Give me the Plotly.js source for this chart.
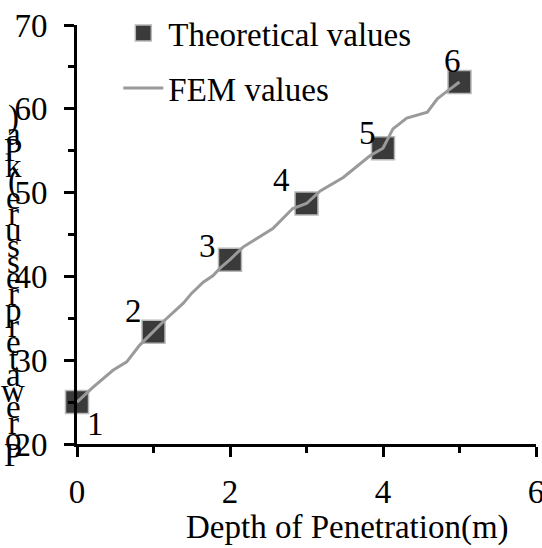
<!DOCTYPE html>
<html>
<head>
<meta charset="utf-8">
<script src="https://cdn.plot.ly/plotly-3.0.1.min.js"></script>
<style>
  html, body { margin: 0; padding: 0; background: #fff; }
  #chart { width: 542px; height: 548px; }
</style>
</head>
<body>
<div id="chart"></div>
<script>
// Theoretical peak pore water pressure at each depth (numbered points 1-6)
const theoDepth = [0, 1, 2, 3, 4, 5];
const theoPressure = [25.0, 33.4, 42.0, 48.7, 55.3, 63.2];
const theoLabels = ['1', '2', '3', '4', '5', '6'];

// FEM curve
const femDepth = [0, 0.2, 0.47, 0.65, 0.82, 1.0, 1.15, 1.39, 1.5, 1.65, 1.78, 1.87, 2.0,
                  2.17, 2.56, 2.82, 3.0, 3.18, 3.48, 3.83, 4.0, 4.13, 4.31, 4.58, 4.71, 4.81, 5.0];
const femPressure = [25.0, 26.7, 28.8, 29.8, 31.8, 33.4, 34.8, 36.8, 38.0, 39.3, 40.1, 41.0, 42.0,
                     43.5, 45.7, 48.1, 48.7, 50.2, 51.8, 54.4, 55.3, 57.6, 58.9, 59.6, 61.2, 61.9, 63.2];

const xTicks = [0, 2, 4, 6];
const yTicks = [20, 30, 40, 50, 60, 70];
const xTitle = 'Depth of Penetration(m)';
const yTitle = 'Pore water pressure(kPa)';

const FONT = 'Liberation Serif, Times New Roman, serif';
const FS = 33;

// pixel nudges for the point numbers (label placement around each marker)
const labelShiftX = [18, -20, -23, -25, -16, -7];
const labelShiftY = [-22, 21, 14, 23, 15, 21];

const fem = {
  x: femDepth, y: femPressure,
  type: 'scatter', mode: 'lines',
  name: 'FEM values',
  line: { color: '#9a9a9a', width: 3 },
  legendgroup: 'b',
  cliponaxis: false
};

const theo = {
  x: theoDepth, y: theoPressure,
  type: 'scatter', mode: 'markers',
  name: 'Theoretical values',
  marker: { symbol: 'square', size: 23, color: '#3a3a3a', line: { color: '#b8b8b8', width: 1.5 } },
  legendgroup: 'a',
  cliponaxis: false
};

const annotations = [];

// point numbers
theoLabels.forEach((lab, i) => {
  annotations.push({
    text: lab, x: theoDepth[i], y: theoPressure[i], xref: 'x', yref: 'y',
    xshift: labelShiftX[i], yshift: labelShiftY[i],
    xanchor: 'center', yanchor: 'middle', showarrow: false,
    font: { family: FONT, size: FS, color: '#000' }
  });
});

// Y title drawn as upright characters stacked from bottom to top
const chars = yTitle.replace(/ /g, '').split('');
const yBottom = -0.026, step = 16.1 / 420;
chars.forEach((ch, i) => {
  annotations.push({
    text: ch, xref: 'paper', yref: 'paper',
    x: -0.139, y: yBottom + i * step,
    xanchor: 'center', yanchor: 'middle',
    showarrow: false,
    font: { family: FONT, size: FS, color: '#000' }
  });
});

annotations.push({
  text: xTitle, xref: 'paper', yref: 'paper',
  x: 0.59, y: -0.2, xanchor: 'center', yanchor: 'middle',
  showarrow: false,
  font: { family: FONT, size: FS, color: '#000' }
});

const axisCommon = {
  showline: true, linecolor: '#000', linewidth: 3,
  ticks: 'outside', ticklen: 10, tickwidth: 3, tickcolor: '#000',
  showgrid: false, zeroline: false,
  tickfont: { family: FONT, size: FS, color: '#000' },
  ticklabeloverflow: 'allow',
  fixedrange: true
};

const layout = {
  width: 542, height: 548,
  margin: { l: 77, r: 6, t: 24, b: 104 },
  paper_bgcolor: '#fff', plot_bgcolor: '#fff',
  showlegend: true,
  legend: {
    x: 0.09, y: 1.045, xanchor: 'left', yanchor: 'top',
    bgcolor: 'rgba(0,0,0,0)', traceorder: 'grouped', tracegroupgap: 9,
    itemwidth: 40,
    font: { family: FONT, size: FS, color: '#000' }
  },
  xaxis: Object.assign({}, axisCommon, {
    range: [0, 6], tickvals: xTicks, ticktext: xTicks.map(String),
    ticklabelstandoff: 6,
    minor: { ticks: 'outside', ticklen: 6, tickwidth: 3, tickcolor: '#000', dtick: 1 }
  }),
  yaxis: Object.assign({}, axisCommon, {
    range: [20, 70], tickvals: yTicks, ticktext: yTicks.map(String),
    ticklabelstandoff: 10,
    minor: { ticks: 'outside', ticklen: 6, tickwidth: 3, tickcolor: '#000', dtick: 5 }
  }),
  annotations: annotations
};

Plotly.newPlot('chart', [theo, fem], layout, { displayModeBar: false, staticPlot: true });
</script>
</body>
</html>
